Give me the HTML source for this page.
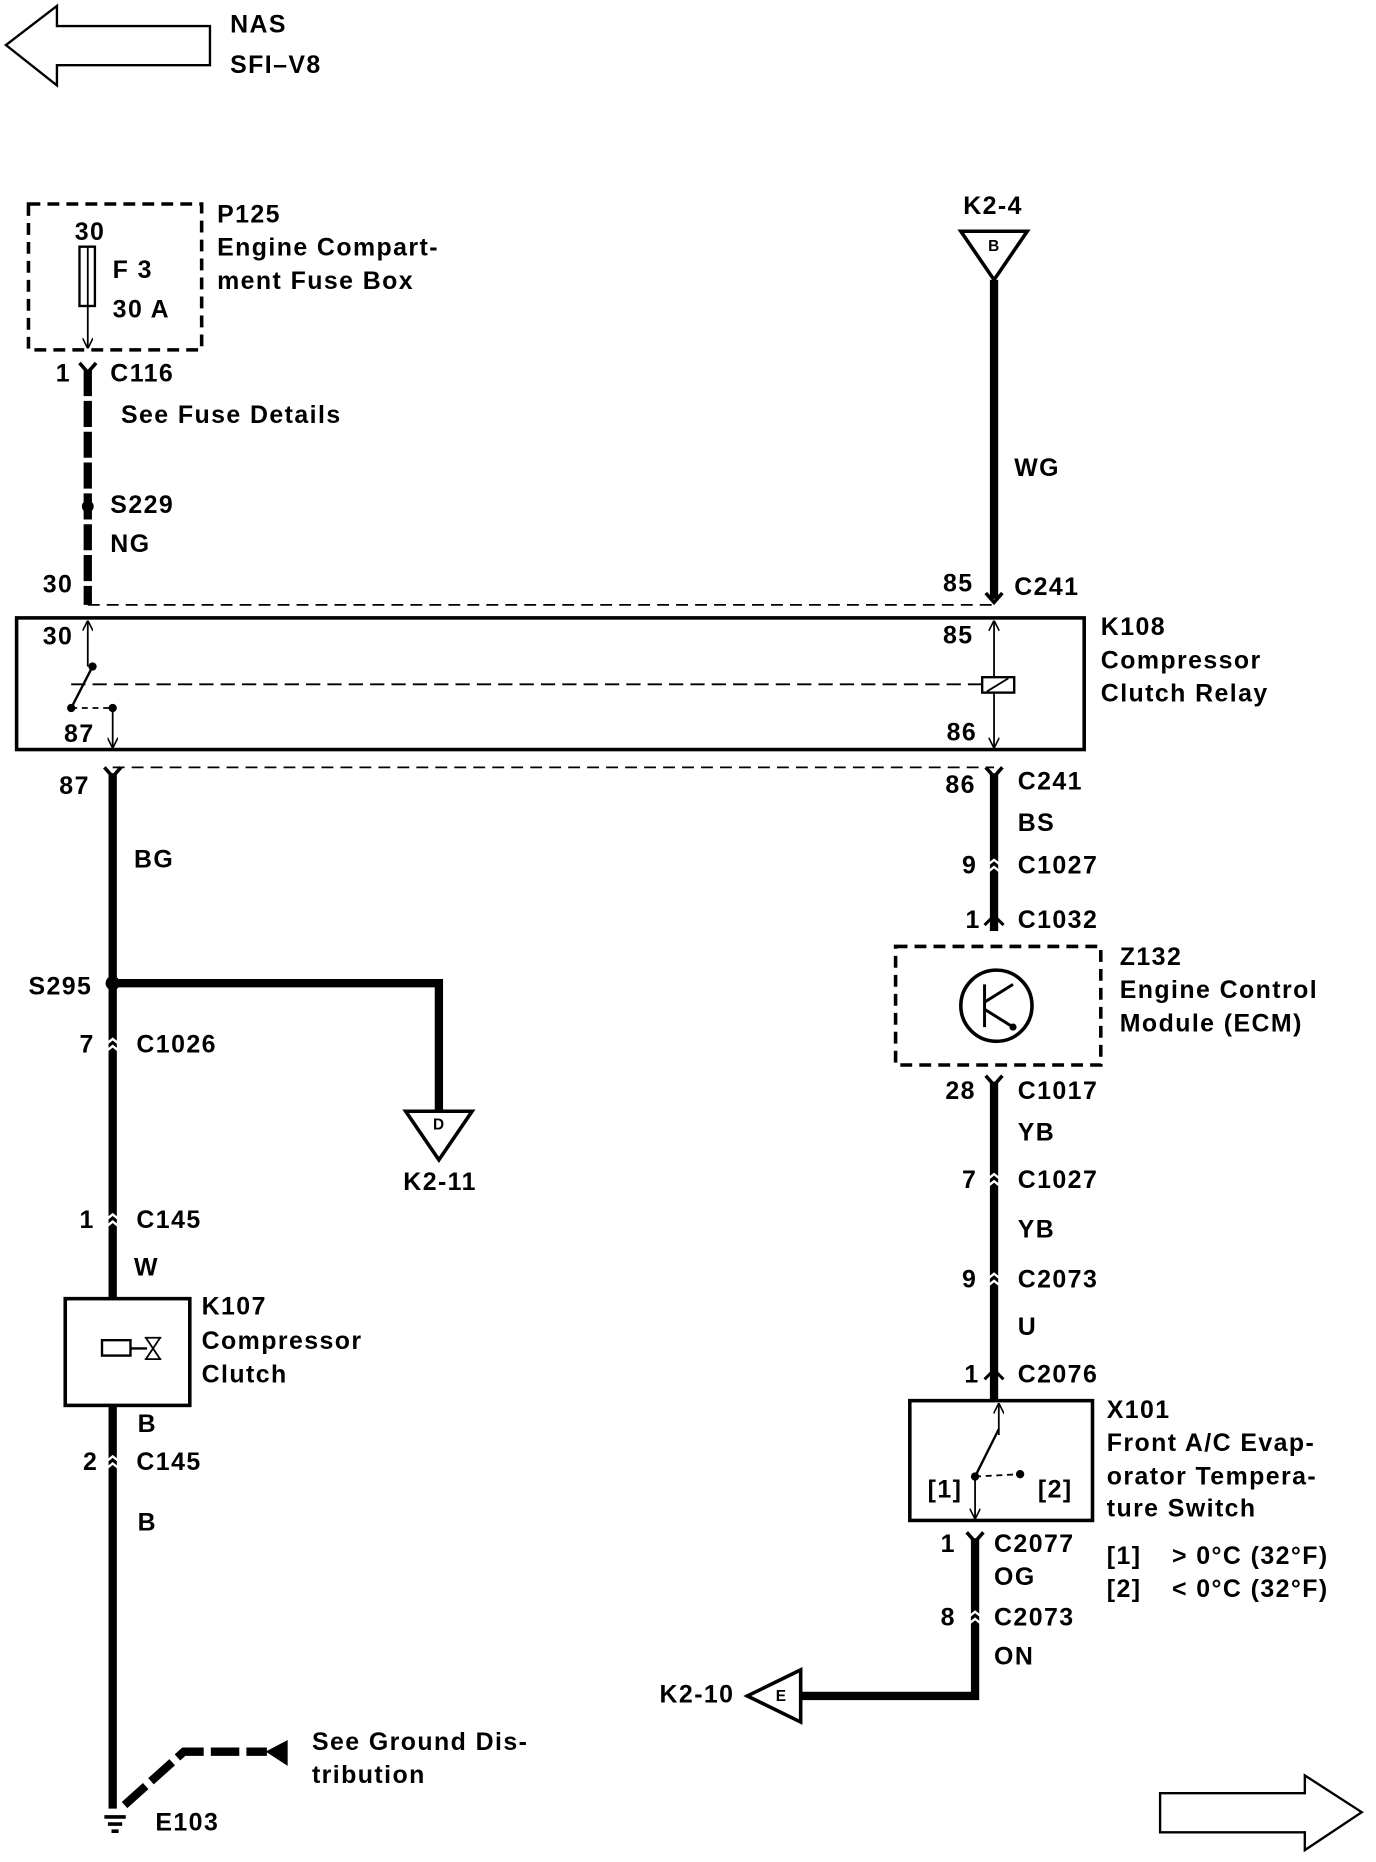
<!DOCTYPE html>
<html><head><meta charset="utf-8"><style>
html,body{margin:0;padding:0;background:#fff;}
svg{display:block;}
text{font-family:"Liberation Sans",sans-serif;font-weight:bold;font-size:21px;letter-spacing:1.2px;fill:#000;dominant-baseline:middle;}
text.s{font-size:13px;letter-spacing:0;}
</style></head><body>
<svg width="1376" height="1862" viewBox="0 0 1160 1570" preserveAspectRatio="none" xmlns="http://www.w3.org/2000/svg">
<defs>
<marker id="ar" viewBox="0 0 10 10" refX="9" refY="5" markerWidth="6" markerHeight="6" orient="auto"><path d="M0,0 L10,5 L0,10" fill="none" stroke="#000" stroke-width="1.5"/></marker>
</defs>
<g fill="none" stroke="#000">
<path d="M5,38 L48,5 L48,22 L177,22 L177,55 L48,55 L48,72 Z" stroke-width="2"/>
<path d="M1148,1528 L1100,1497 L1100,1512 L978,1512 L978,1545 L1100,1545 L1100,1560 Z" stroke-width="2"/>
<rect x="24" y="172" width="146" height="123" stroke-width="3" stroke-dasharray="10,6"/>
<rect x="67" y="208" width="13" height="50" stroke-width="2"/>
<line x1="74" y1="208" x2="74" y2="293" stroke-width="1.5" marker-end="url(#ar)"/>
<line x1="74" y1="312" x2="74" y2="510" stroke-width="7" stroke-dasharray="22,4"/>
<path d="M67,306 L74,314 L81,306" stroke-width="3"/>
<path d="M810,195 L866,195 L838,236 Z" stroke-width="3"/>
<line x1="838" y1="236" x2="838" y2="505" stroke-width="7"/>
<path d="M831,500 L838,508 L845,500" stroke-width="3"/>
<line x1="74" y1="510" x2="838" y2="510" stroke-width="1.5" stroke-dasharray="10,6"/>
<line x1="95" y1="647" x2="838" y2="647" stroke-width="1.5" stroke-dasharray="10,6"/>
<rect x="14" y="521" width="900" height="111" stroke-width="3"/>
<line x1="60" y1="577" x2="828" y2="577" stroke-width="1.5" stroke-dasharray="12,6"/>
<rect x="828" y="571" width="27" height="13" stroke-width="2"/>
<line x1="832" y1="583" x2="850" y2="572" stroke-width="1.5"/>
<line x1="838" y1="571" x2="838" y2="524" stroke-width="1.5" marker-end="url(#ar)"/>
<line x1="838" y1="584" x2="838" y2="630" stroke-width="1.5" marker-end="url(#ar)"/>
<line x1="74" y1="562" x2="74" y2="524" stroke-width="1.5" marker-end="url(#ar)"/>
<line x1="78" y1="562" x2="60" y2="597" stroke-width="2"/>
<line x1="60" y1="597" x2="95" y2="597" stroke-width="1.5" stroke-dasharray="5,4"/>
<line x1="95" y1="597" x2="95" y2="630" stroke-width="1.5" marker-end="url(#ar)"/>
<line x1="95" y1="652" x2="95" y2="1525" stroke-width="7"/>
<path d="M88,647 L95,655 L102,647" stroke-width="3"/>
<path d="M95,829 L370,829 L370,937" stroke-width="7"/>
<path d="M342,937 L398,937 L370,978 Z" stroke-width="3"/>
<rect x="55" y="1095" width="105" height="90" fill="#fff" stroke-width="3"/>
<rect x="86" y="1130" width="24" height="13" stroke-width="2"/>
<line x1="110" y1="1137" x2="124" y2="1137" stroke-width="2"/>
<path d="M123,1128 L135,1146 M135,1128 L123,1146 M122,1128 L136,1128 M122,1146 L136,1146" stroke-width="1.5"/>
<path d="M105,1522 L155,1477 L225,1477" stroke-width="7" stroke-dasharray="24,6"/>
<path d="M225,1477 L242,1468 L242,1488 Z" fill="#000" stroke-width="1"/>
<path d="M88,1532 L106,1532 M91,1538 L103,1538 M94,1544 L100,1544" stroke-width="3"/>
<line x1="838" y1="652" x2="838" y2="785" stroke-width="7"/>
<path d="M831,647 L838,655 L845,647" stroke-width="3"/>
<rect x="755" y="798" width="173" height="100" stroke-width="3" stroke-dasharray="10,6"/>
<circle cx="840" cy="848" r="30" stroke-width="3"/>
<path d="M830,830 L830,866 M830,845 L854,830 M830,851 L854,866" stroke-width="2.5"/>
<line x1="838" y1="912" x2="838" y2="1180" stroke-width="7"/>
<path d="M831,907 L838,915 L845,907" stroke-width="3"/>
<rect x="767" y="1181" width="154" height="101" stroke-width="3"/>
<line x1="842" y1="1210" x2="842" y2="1184" stroke-width="1.5" marker-end="url(#ar)"/>
<line x1="842" y1="1205" x2="822" y2="1245" stroke-width="2"/>
<line x1="822" y1="1245" x2="860" y2="1243" stroke-width="1.5" stroke-dasharray="5,4"/>
<line x1="822" y1="1245" x2="822" y2="1280" stroke-width="1.5" marker-end="url(#ar)"/>
<path d="M822,1297 L822,1430 L675,1430" stroke-width="7"/>
<path d="M815,1292 L822,1300 L829,1292" stroke-width="3"/>
<path d="M630,1430 L675,1408 L675,1452 Z" stroke-width="3" fill="#fff"/>
</g>
<g fill="#000">
<circle cx="74" cy="427" r="5"/><circle cx="95" cy="829" r="6"/>
<circle cx="78" cy="562" r="3.5"/><circle cx="60" cy="597" r="3.5"/><circle cx="95" cy="597" r="3.5"/>
<circle cx="822" cy="1245" r="3.5"/><circle cx="860" cy="1243" r="3.5"/>
<circle cx="854" cy="866" r="3"/>
</g>
<g stroke="#fff" stroke-width="2" fill="none">
<path d="M90,880 L95,876 L100,880 M90,886 L95,882 L100,886"/>
<path d="M90,1028 L95,1024 L100,1028 M90,1034 L95,1030 L100,1034"/>
<path d="M90,1232 L95,1228 L100,1232 M90,1238 L95,1234 L100,1238"/>
<path d="M833,729 L838,725 L843,729 M833,735 L838,731 L843,735"/>
<path d="M833,994 L838,990 L843,994 M833,1000 L838,996 L843,1000"/>
<path d="M833,1078 L838,1074 L843,1078 M833,1084 L838,1080 L843,1084"/>
<path d="M817,1363 L822,1359 L827,1363 M817,1369 L822,1365 L827,1369"/>
</g>
<g stroke="#000" stroke-width="2.5" fill="none">
<path d="M830,780 L838,772 L846,780"/>
<path d="M830,1163 L838,1155 L846,1163"/>
</g>
<text x="194" y="22">NAS</text><text x="194" y="56">SFI–V8</text>
<text x="63" y="197">30</text><text x="95" y="229">F 3</text><text x="95" y="262">30 A</text>
<text x="183" y="182">P125</text><text x="183" y="210">Engine Compart-</text><text x="183" y="238">ment Fuse Box</text>
<text x="47" y="316">1</text><text x="93" y="316">C116</text>
<text x="102" y="351">See Fuse Details</text>
<text x="93" y="427">S229</text><text x="93" y="460">NG</text><text x="36" y="494">30</text>
<text x="812" y="175">K2-4</text><text class="s" x="833" y="208">B</text>
<text x="855" y="396">WG</text><text x="795" y="493">85</text><text x="855" y="496">C241</text>
<text x="36" y="538">30</text><text x="795" y="537">85</text><text x="54" y="620">87</text><text x="798" y="619">86</text>
<text x="928" y="530">K108</text><text x="928" y="558">Compressor</text><text x="928" y="586">Clutch Relay</text>
<text x="50" y="664">87</text><text x="797" y="663">86</text><text x="858" y="660">C241</text>
<text x="113" y="726">BG</text>
<text x="858" y="695">BS</text><text x="811" y="731">9</text><text x="858" y="731">C1027</text>
<text x="814" y="777">1</text><text x="858" y="777">C1032</text>
<text x="944" y="808">Z132</text><text x="944" y="836">Engine Control</text><text x="944" y="864">Module (ECM)</text>
<text x="797" y="921">28</text><text x="858" y="921">C1017</text><text x="858" y="956">YB</text>
<text x="811" y="996">7</text><text x="858" y="996">C1027</text><text x="858" y="1038">YB</text>
<text x="811" y="1080">9</text><text x="858" y="1080">C2073</text><text x="858" y="1120">U</text>
<text x="813" y="1160">1</text><text x="858" y="1160">C2076</text>
<text x="782" y="1257">[1]</text><text x="875" y="1257">[2]</text>
<text x="933" y="1190">X101</text><text x="933" y="1218">Front A/C Evap-</text><text x="933" y="1246">orator Tempera-</text><text x="933" y="1273">ture Switch</text>
<text x="933" y="1313">[1]</text><text x="988" y="1313">&gt; 0°C (32°F)</text>
<text x="933" y="1341">[2]</text><text x="988" y="1341">&lt; 0°C (32°F)</text>
<text x="793" y="1303">1</text><text x="838" y="1303">C2077</text><text x="838" y="1331">OG</text>
<text x="793" y="1365">8</text><text x="838" y="1365">C2073</text><text x="838" y="1398">ON</text>
<text x="556" y="1430">K2-10</text><text class="s" x="654" y="1431">E</text>
<text x="24" y="833">S295</text><text x="67" y="882">7</text><text x="115" y="882">C1026</text>
<text class="s" x="365" y="949">D</text><text x="340" y="998">K2-11</text>
<text x="67" y="1030">1</text><text x="115" y="1030">C145</text><text x="113" y="1070">W</text>
<text x="170" y="1103">K107</text><text x="170" y="1132">Compressor</text><text x="170" y="1160">Clutch</text>
<text x="116" y="1202">B</text><text x="70" y="1234">2</text><text x="115" y="1234">C145</text><text x="116" y="1285">B</text>
<text x="263" y="1470">See Ground Dis-</text><text x="263" y="1498">tribution</text>
<text x="131" y="1538">E103</text>
</svg>
</body></html>
